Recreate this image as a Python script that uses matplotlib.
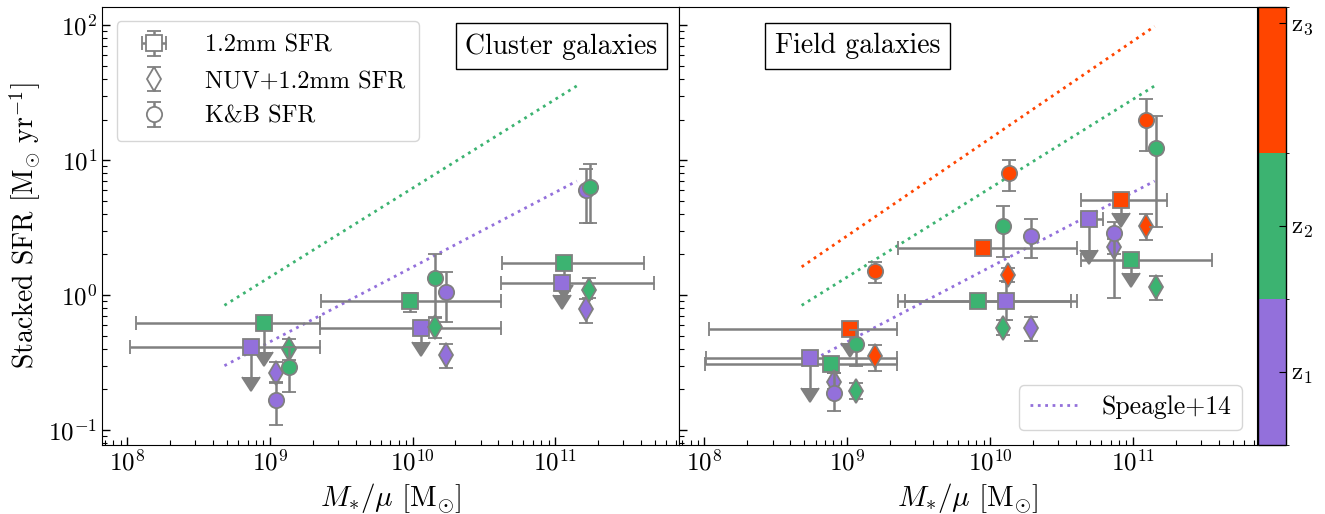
import numpy as np
import matplotlib
matplotlib.use("Agg")
import matplotlib.pyplot as plt
from matplotlib.colors import ListedColormap, BoundaryNorm
from matplotlib.cm import ScalarMappable

plt.rcParams["font.family"] = ["cmr10", "DejaVu Serif"]
plt.rcParams["mathtext.fontset"] = "cm"
plt.rcParams["axes.formatter.use_mathtext"] = True

# redshift bin colours (z1, z2, z3)
zcolors = ["mediumpurple", "mediumseagreen", "orangered"]
zlabels = [r"$\mathrm{z_1}$", r"$\mathrm{z_2}$", r"$\mathrm{z_3}$"]

# Speagle+14 main sequence lines, one per redshift bin
ms_mass = [4.8e8, 1.42e11]
ms_sfr = [[0.30, 7.0], [0.84, 35.5], [1.62, 98.0]]
ms_bins_cluster = [0, 1]
ms_bins_field = [0, 1, 2]

# ---- cluster galaxies ----
# 1.2mm SFR (squares)
cl_sq_zbin = [0, 1, 0, 1, 0, 1]
cl_sq_mass = [7.4e8, 9.1e8, 1.15e10, 9.6e9, 1.11e11, 1.16e11]
cl_sq_mlo = [1.05e8, 1.15e8, 2.25e9, 2.29e9, 4.16e10, 4.25e10]
cl_sq_mhi = [2.25e9, 2.25e9, 4.16e10, 4.16e10, 4.92e11, 4.19e11]
cl_sq_sfr = [0.41, 0.62, 0.57, 0.90, 1.23, 1.72]
cl_sq_lo = [0.247, 0.378, 0.449, 0.75, 1.0, 1.19]
cl_sq_hi = [0.41, 0.62, 0.57, 1.04, 1.23, 1.72]
cl_sq_uplim = [True, True, True, False, True, True]
# NUV+1.2mm SFR (diamonds)
cl_di_zbin = [0, 0, 0, 1, 1, 1]
cl_di_mass = [1.11e9, 1.71e10, 1.66e11, 1.37e9, 1.43e10, 1.74e11]
cl_di_sfr = [0.263, 0.36, 0.783, 0.396, 0.577, 1.09]
cl_di_lo = [0.223, 0.29, 0.624, 0.33, 0.48, 0.946]
cl_di_hi = [0.32, 0.438, 0.933, 0.472, 0.676, 1.33]
# K&B SFR (circles)
cl_ci_zbin = [0, 0, 0, 1, 1, 1]
cl_ci_mass = [1.11e9, 1.71e10, 1.66e11, 1.37e9, 1.43e10, 1.76e11]
cl_ci_sfr = [0.167, 1.06, 6.0, 0.294, 1.34, 6.28]
cl_ci_lo = [0.109, 0.634, 3.4, 0.192, 0.687, 3.4]
cl_ci_hi = [0.228, 1.49, 8.67, 0.414, 2.01, 9.3]

# ---- field galaxies ----
fi_sq_zbin = [0, 1, 2, 2, 1, 0, 0, 2, 1]
fi_sq_mass = [5.5e8, 7.7e8, 1.05e9, 8.9e9, 8.2e9, 1.29e10, 4.94e10, 8.26e10, 9.7e10]
fi_sq_mlo = [1.03e8, 1.01e8, 1.08e8, 2.25e9, 2.54e9, 2.25e9, 4.33e10, 4.33e10, 4.33e10]
fi_sq_mhi = [2.22e9, 2.22e9, 2.22e9, 4.08e10, 3.69e10, 4.08e10, 6.2e10, 1.74e11, 3.56e11]
fi_sq_sfr = [0.34, 0.31, 0.56, 2.24, 0.90, 0.90, 3.66, 5.11, 1.82]
fi_sq_lo = [0.205, 0.31, 0.44, 2.24, 0.90, 0.653, 2.15, 4.05, 1.46]
fi_sq_hi = [0.34, 0.31, 0.56, 2.24, 0.90, 1.27, 3.66, 5.11, 1.82]
fi_sq_uplim = [True, False, True, False, False, False, True, True, True]
fi_di_zbin = [0, 0, 0, 1, 1, 1, 2, 2, 2]
fi_di_mass = [8.05e8, 1.93e10, 7.41e10, 1.15e9, 1.24e10, 1.45e11, 1.57e9, 1.33e10, 1.24e11]
fi_di_sfr = [0.228, 0.566, 2.28, 0.195, 0.573, 1.15, 0.353, 1.42, 3.24]
fi_di_lo = [0.20, 0.458, 2.0, 0.169, 0.506, 0.918, 0.275, 1.26, 2.55]
fi_di_hi = [0.264, 0.69, 2.6, 0.224, 0.653, 1.38, 0.43, 1.58, 3.96]
fi_ci_zbin = [0, 0, 0, 1, 1, 1, 2, 2, 2]
fi_ci_mass = [8.05e8, 1.93e10, 7.41e10, 1.15e9, 1.24e10, 1.45e11, 1.57e9, 1.35e10, 1.24e11]
fi_ci_sfr = [0.189, 2.75, 2.91, 0.438, 3.24, 12.2, 1.51, 8.05, 20.0]
fi_ci_lo = [0.139, 1.87, 0.946, 0.30, 1.92, 3.2, 1.23, 5.93, 11.7]
fi_ci_hi = [0.264, 3.66, 3.5, 0.55, 4.56, 21.2, 1.77, 10.1, 28.6]

TICK_FS = 18
LAB_FS = 21
LEG_FS = 17.5
BOX_FS = 20
EC = "gray"
err_kw = dict(ecolor=EC, elinewidth=1.8, capsize=5, capthick=1.5, mec=EC, mew=1.3, ls="none")


def draw_squares(ax, zbin, mass, mlo, mhi, sfr, lo, hi, uplim):
    for i in range(len(mass)):
        xerr = [[mass[i] - mlo[i]], [mhi[i] - mass[i]]]
        if uplim[i]:
            yerr = [[sfr[i] - lo[i]], [0]]
        elif lo[i] != sfr[i] or hi[i] != sfr[i]:
            yerr = [[sfr[i] - lo[i]], [hi[i] - sfr[i]]]
        else:
            yerr = None
        eb = ax.errorbar([mass[i]], [sfr[i]], xerr=xerr, yerr=yerr, uplims=uplim[i],
                         marker="s", ms=11, mfc=zcolors[zbin[i]], zorder=3, **err_kw)
        # grey arrow heads for the upper limits
        for cap in eb[1]:
            if cap.get_marker() not in ("|", "_"):
                cap.set_markerfacecolor(EC)
                cap.set_markeredgecolor(EC)
                cap.set_markersize(13)


def draw_points(ax, zbin, mass, sfr, lo, hi, marker, ms, z):
    for i in range(len(mass)):
        yerr = [[sfr[i] - lo[i]], [hi[i] - sfr[i]]]
        ax.errorbar([mass[i]], [sfr[i]], yerr=yerr, marker=marker, ms=ms,
                    mfc=zcolors[zbin[i]], zorder=z, **err_kw)


def style_axis(ax):
    ax.set_xscale("log")
    ax.set_yscale("log")
    ax.set_xlim(6.65e7, 7.4e11)
    ax.set_ylim(0.0774, 136.7)
    ax.tick_params(which="both", direction="in", top=False, right=False, labelsize=TICK_FS)
    ax.tick_params(which="major", length=6, width=1)
    ax.tick_params(which="minor", length=3.5, width=0.8)
    ax.set_xlabel(r"$M_{*}/\mu\ [\mathrm{M_{\odot}}]$", fontsize=LAB_FS)


fig = plt.figure(figsize=(13.25, 5.14), dpi=100)
ax1 = fig.add_axes([0.077, 0.134, 0.4355, 0.8527])
ax2 = fig.add_axes([0.5125, 0.134, 0.4362, 0.8527])
cax = fig.add_axes([0.9494, 0.134, 0.0215, 0.8527])

# cluster panel
for b in ms_bins_cluster:
    ax1.plot(ms_mass, ms_sfr[b], ls=":", lw=2, color=zcolors[b], zorder=1)
draw_squares(ax1, cl_sq_zbin, cl_sq_mass, cl_sq_mlo, cl_sq_mhi, cl_sq_sfr, cl_sq_lo, cl_sq_hi, cl_sq_uplim)
draw_points(ax1, cl_di_zbin, cl_di_mass, cl_di_sfr, cl_di_lo, cl_di_hi, "d", 12, 4)
draw_points(ax1, cl_ci_zbin, cl_ci_mass, cl_ci_sfr, cl_ci_lo, cl_ci_hi, "o", 11, 5)
style_axis(ax1)
ax1.set_ylabel(r"Stacked SFR [$\mathrm{M_{\odot}\ yr^{-1}}$]", fontsize=LAB_FS - 1)
ax1.text(0.963, 0.94, "Cluster galaxies", transform=ax1.transAxes, ha="right", va="top",
         fontsize=BOX_FS, bbox=dict(boxstyle="square,pad=0.35", fc="white", ec="black"))

# legend proxies (open grey markers)
proxy_kw = dict(ecolor=EC, elinewidth=1.8, capsize=5, capthick=1.5, mec=EC, mew=1.3, mfc="white", ls="none")
h1 = ax1.errorbar([np.nan], [np.nan], xerr=[np.nan], yerr=[np.nan], marker="s", ms=11, **proxy_kw)
h2 = ax1.errorbar([np.nan], [np.nan], yerr=[np.nan], marker="d", ms=12, **proxy_kw)
h3 = ax1.errorbar([np.nan], [np.nan], yerr=[np.nan], marker="o", ms=11, **proxy_kw)
ax1.legend([h1, h2, h3], ["1.2mm SFR", "NUV+1.2mm SFR", "K&B SFR"], loc="upper left",
           fontsize=LEG_FS, handletextpad=1.1, labelspacing=0.55, borderpad=0.55,
           borderaxespad=0.6, framealpha=0.8)

# field panel
for b in ms_bins_field:
    ax2.plot(ms_mass, ms_sfr[b], ls=":", lw=2, color=zcolors[b], zorder=1,
             label="Speagle+14" if b == 0 else None)
draw_squares(ax2, fi_sq_zbin, fi_sq_mass, fi_sq_mlo, fi_sq_mhi, fi_sq_sfr, fi_sq_lo, fi_sq_hi, fi_sq_uplim)
draw_points(ax2, fi_di_zbin, fi_di_mass, fi_di_sfr, fi_di_lo, fi_di_hi, "d", 12, 4)
draw_points(ax2, fi_ci_zbin, fi_ci_mass, fi_ci_sfr, fi_ci_lo, fi_ci_hi, "o", 11, 5)
style_axis(ax2)
ax2.tick_params(labelleft=False)
ax2.text(0.166, 0.94, "Field galaxies", transform=ax2.transAxes, ha="left", va="top",
         fontsize=BOX_FS, bbox=dict(boxstyle="square,pad=0.35", fc="white", ec="black"))
ax2.legend(loc="lower right", fontsize=LEG_FS + 1, handlelength=2.0, handletextpad=0.8,
           borderaxespad=0.6, framealpha=0.8)

# colour bar for redshift bins
cmap = ListedColormap(zcolors)
norm = BoundaryNorm([0, 1, 2, 3], cmap.N)
cb = fig.colorbar(ScalarMappable(norm=norm, cmap=cmap), cax=cax, ticks=[0.5, 1.5, 2.89])
cb.ax.set_yticklabels(zlabels)
cb.ax.tick_params(direction="in", length=5, labelsize=TICK_FS)
cb.outline.set_linewidth(1)

fig.savefig("out.png", dpi=100)
